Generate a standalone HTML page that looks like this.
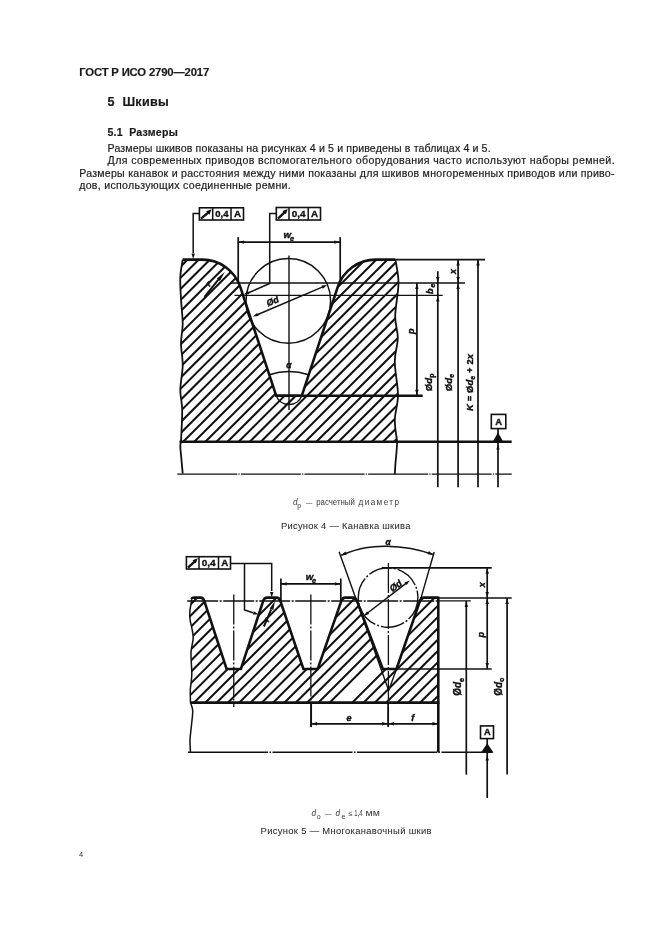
<!DOCTYPE html>
<html><head><meta charset="utf-8"><style>
html,body{margin:0;padding:0;background:#fff;}
body{width:661px;height:936px;position:relative;overflow:hidden;font-family:"Liberation Sans",sans-serif;}
svg{filter:grayscale(100%);}
</style></head><body>
<svg width="661" height="936" viewBox="0 0 661 936" style="position:absolute;left:0;top:0"><g font-family="Liberation Sans, sans-serif"><text x="79.2" y="75.9" font-size="11.3" font-weight="bold" fill="#1a1a1a" stroke="#1a1a1a" stroke-width="0.18" textLength="130" lengthAdjust="spacing" >ГОСТ Р ИСО 2790—2017</text><text x="107.5" y="106.2" font-size="12.6" font-weight="bold" fill="#1a1a1a" stroke="#1a1a1a" stroke-width="0.18" textLength="61.3" lengthAdjust="spacing" >5&#160;&#160;Шкивы</text><text x="107.5" y="135.9" font-size="10.6" font-weight="bold" fill="#1a1a1a" stroke="#1a1a1a" stroke-width="0.18" textLength="70.2" lengthAdjust="spacing" >5.1&#160;&#160;Размеры</text><text x="107.6" y="151.8" font-size="10.6" font-weight="normal" fill="#1a1a1a" stroke="#1a1a1a" stroke-width="0.18" textLength="383" lengthAdjust="spacing" >Размеры шкивов показаны на рисунках 4 и 5 и приведены в таблицах 4 и 5.</text><text x="107.6" y="164.3" font-size="10.6" font-weight="normal" fill="#1a1a1a" stroke="#1a1a1a" stroke-width="0.18" textLength="507" lengthAdjust="spacing" >Для современных приводов вспомогательного оборудования часто используют наборы ремней.</text><text x="79.2" y="176.7" font-size="10.6" font-weight="normal" fill="#1a1a1a" stroke="#1a1a1a" stroke-width="0.18" textLength="535.3" lengthAdjust="spacing" >Размеры канавок и расстояния между ними показаны для шкивов многоременных приводов или приво-</text><text x="79.2" y="189.1" font-size="10.6" font-weight="normal" fill="#1a1a1a" stroke="#1a1a1a" stroke-width="0.18" textLength="211.5" lengthAdjust="spacing" >дов, использующих соединенные ремни.</text><text x="280.9" y="529.2" font-size="9.4" font-weight="normal" fill="#2a2a2a" stroke="#2a2a2a" stroke-width="0.05" textLength="129.5" lengthAdjust="spacing" >Рисунок 4 — Канавка шкива</text><text x="260.6" y="833.9" font-size="9.4" font-weight="normal" fill="#2a2a2a" stroke="#2a2a2a" stroke-width="0.05" textLength="170.9" lengthAdjust="spacing" >Рисунок 5 — Многоканавочный шкив</text><text x="78.9" y="857.2" font-size="7.5" font-weight="normal" fill="#333" stroke="#333" stroke-width="0" >4</text><text x="293.0" y="505.4" font-size="8.2" fill="#3a3a3a" font-style="italic">d</text><text x="297.2" y="508.4" font-size="7.0" fill="#3a3a3a">p</text><text x="305.9" y="505.4" font-size="8" fill="#3a3a3a" textLength="6.3" lengthAdjust="spacingAndGlyphs">—</text><text x="316.2" y="505.4" font-size="8.2" fill="#3a3a3a" textLength="38.7" lengthAdjust="spacingAndGlyphs">расчетный</text><text x="358.5" y="505.4" font-size="8.2" fill="#3a3a3a" textLength="40.5" lengthAdjust="spacing">диаметр</text><text x="311.6" y="815.9" font-size="8.2" fill="#3a3a3a" font-style="italic">d</text><text x="316.8" y="818.6999999999999" font-size="7.0" fill="#3a3a3a">o</text><text x="324.7" y="815.9" font-size="8" fill="#3a3a3a" textLength="6.9" lengthAdjust="spacingAndGlyphs">—</text><text x="335.4" y="815.9" font-size="8.2" fill="#3a3a3a" font-style="italic">d</text><text x="341.6" y="818.6999999999999" font-size="7.0" fill="#3a3a3a">e</text><text x="348.2" y="815.9" font-size="7.5" fill="#3a3a3a" textLength="3.2" lengthAdjust="spacing">≤</text><text x="354.3" y="815.9" font-size="8.2" fill="#3a3a3a" textLength="8.3" lengthAdjust="spacingAndGlyphs">1,4</text><text x="365.6" y="815.9" font-size="8.2" fill="#3a3a3a" textLength="14.3" lengthAdjust="spacingAndGlyphs">мм</text></g><g stroke="#111" fill="none" font-family="Liberation Sans, sans-serif"><clipPath id="c4"><path d="M182.7,259.6 L202.36,259.6 A40.0,40.0 0 0 1 240.34,287.06 L276.22,395.8 L301.78,395.8 L337.66,287.06 A40.0,40.0 0 0 1 375.64,259.6 L395.4,259.6 C395.92,263.50 398.53,273.60 398.50,283.00 C398.47,292.40 395.32,306.83 395.20,316.00 C395.08,325.17 397.87,330.33 397.80,338.00 C397.73,345.67 394.77,352.50 394.80,362.00 C394.83,371.50 398.00,385.33 398.00,395.00 C398.00,404.67 394.93,412.22 394.80,420.00 C394.67,427.78 396.80,438.08 397.20,441.70 L181,441.7 C181.20,436.38 182.32,418.42 182.20,409.80 C182.08,401.18 180.22,397.38 180.30,390.00 C180.38,382.62 182.58,373.27 182.70,365.50 C182.82,357.73 181.00,350.35 181.00,343.40 C181.00,336.45 182.70,331.20 182.70,323.80 C182.70,316.40 181.40,306.80 181.00,299.00 C180.60,291.20 180.02,283.57 180.30,277.00 C180.58,270.43 182.30,262.50 182.70,259.60 Z"/></clipPath><g clip-path="url(#c4)" stroke-width="2.05"><path d="M-58.0,250 L-308.0,500 M-46.89999999999998,250 L-296.9,500 M-35.80000000000001,250 L-285.8,500 M-24.69999999999999,250 L-274.7,500 M-13.599999999999966,250 L-263.59999999999997,500 M-2.5,250 L-252.5,500 M8.600000000000023,250 L-241.39999999999998,500 M19.69999999999999,250 L-230.3,500 M30.80000000000001,250 L-219.2,500 M41.900000000000034,250 L-208.09999999999997,500 M53.0,250 L-197.0,500 M64.10000000000002,250 L-185.89999999999998,500 M75.19999999999999,250 L-174.8,500 M86.30000000000001,250 L-163.7,500 M97.40000000000003,250 L-152.59999999999997,500 M108.5,250 L-141.5,500 M119.60000000000002,250 L-130.39999999999998,500 M130.70000000000005,250 L-119.29999999999995,500 M141.8,250 L-108.19999999999999,500 M152.89999999999998,250 L-97.10000000000002,500 M164.0,250 L-86.0,500 M175.10000000000002,250 L-74.89999999999998,500 M186.20000000000005,250 L-63.799999999999955,500 M197.3,250 L-52.69999999999999,500 M208.39999999999998,250 L-41.60000000000002,500 M219.5,250 L-30.5,500 M230.60000000000002,250 L-19.399999999999977,500 M241.70000000000005,250 L-8.299999999999955,500 M252.8,250 L2.8000000000000114,500 M263.9,250 L13.899999999999977,500 M275.0,250 L25.0,500 M286.1,250 L36.10000000000002,500 M297.20000000000005,250 L47.200000000000045,500 M308.29999999999995,250 L58.299999999999955,500 M319.4,250 L69.39999999999998,500 M330.5,250 L80.5,500 M341.6,250 L91.60000000000002,500 M352.70000000000005,250 L102.70000000000005,500 M363.79999999999995,250 L113.79999999999995,500 M374.9,250 L124.89999999999998,500 M386.0,250 L136.0,500 M397.1,250 L147.10000000000002,500 M408.20000000000005,250 L158.20000000000005,500 M419.29999999999995,250 L169.29999999999995,500 M430.4,250 L180.39999999999998,500 M441.5,250 L191.5,500 M452.6,250 L202.60000000000002,500 M463.70000000000005,250 L213.70000000000005,500 M474.79999999999995,250 L224.79999999999995,500 M485.9,250 L235.89999999999998,500 M497.0,250 L247.0,500 M508.1,250 L258.1,500 M519.2,250 L269.20000000000005,500 M530.3,250 L280.29999999999995,500 M541.4,250 L291.4,500 M552.5,250 L302.5,500 M563.6,250 L313.6,500 M574.7,250 L324.70000000000005,500 M585.8,250 L335.79999999999995,500 M596.9,250 L346.9,500 M608.0,250 L358.0,500 M619.1,250 L369.1,500 M630.2,250 L380.20000000000005,500 M641.3,250 L391.29999999999995,500 M652.4,250 L402.4,500 M663.5,250 L413.5,500 M674.5999999999999,250 L424.5999999999999,500 M685.7,250 L435.70000000000005,500 M696.8,250 L446.79999999999995,500 M707.9,250 L457.9,500 M719.0,250 L469.0,500 M730.0999999999999,250 L480.0999999999999,500 M741.2,250 L491.20000000000005,500 M752.3,250 L502.29999999999995,500 M763.4,250 L513.4,500 M774.5,250 L524.5,500 M785.5999999999999,250 L535.5999999999999,500 M796.7,250 L546.7,500 M807.8,250 L557.8,500 M818.9000000000001,250 L568.9000000000001,500"/></g><path d="M182.7,259.6 L202.36,259.6 A40.0,40.0 0 0 1 240.34,287.06 L276.22,395.8 L301.78,395.8 L337.66,287.06 A40.0,40.0 0 0 1 375.64,259.6 L395.4,259.6" fill="none" stroke-width="2.6"/><path d="M182.7,259.6 C182.30,262.50 180.58,270.43 180.30,277.00 C180.02,283.57 180.60,291.20 181.00,299.00 C181.40,306.80 182.70,316.40 182.70,323.80 C182.70,331.20 181.00,336.45 181.00,343.40 C181.00,350.35 182.82,357.73 182.70,365.50 C182.58,373.27 180.38,382.62 180.30,390.00 C180.22,397.38 182.08,401.18 182.20,409.80 C182.32,418.42 181.20,436.38 181.00,441.70 C180.88,442.50 180.22,443.45 180.30,446.50 C180.38,449.55 181.10,455.48 181.50,460.00 C181.90,464.52 182.50,471.33 182.70,473.60" fill="none" stroke-width="1.8"/><path d="M395.4,259.6 C395.92,263.50 398.53,273.60 398.50,283.00 C398.47,292.40 395.32,306.83 395.20,316.00 C395.08,325.17 397.87,330.33 397.80,338.00 C397.73,345.67 394.77,352.50 394.80,362.00 C394.83,371.50 398.00,385.33 398.00,395.00 C398.00,404.67 394.93,412.22 394.80,420.00 C394.67,427.78 396.80,438.08 397.20,441.70 C397.08,443.42 396.78,448.45 396.50,452.00 C396.22,455.55 395.78,459.33 395.50,463.00 C395.22,466.67 394.92,472.17 394.80,474.00" fill="none" stroke-width="1.8"/><line x1="179.50" y1="441.70" x2="511.70" y2="441.70" stroke-width="2.6" /><line x1="177.30" y1="474.10" x2="511.70" y2="474.10" stroke-width="1.3" stroke-dasharray="60,1.2,1.2,1.2"/><circle cx="288.3" cy="300.9" r="42.3" fill="none" stroke-width="1.5"/><line x1="289.00" y1="255.40" x2="289.00" y2="409.90" stroke-width="1.4" /><line x1="230.00" y1="283.00" x2="465.00" y2="283.00" stroke-width="1.7" /><line x1="234.50" y1="295.40" x2="442.70" y2="295.40" stroke-width="1.1" /><line x1="276.22" y1="395.80" x2="422.70" y2="395.80" stroke-width="2.4" /><path d="M276.22,395.8 A13.7,13.7 0 0 0 301.78,395.8" fill="none" stroke-width="1.4"/><line x1="395.40" y1="259.60" x2="485.00" y2="259.60" stroke-width="1.7" /><line x1="238.20" y1="237.20" x2="238.20" y2="281.70" stroke-width="1.7" /><line x1="340.20" y1="237.20" x2="340.20" y2="281.70" stroke-width="1.7" /><line x1="238.20" y1="242.10" x2="340.20" y2="242.10" stroke-width="1.7" /><polygon points="238.60,242.10 244.10,240.40 244.10,243.80" fill="#111" stroke="none"/><polygon points="339.80,242.10 334.30,243.80 334.30,240.40" fill="#111" stroke="none"/><rect x="199.4" y="207.8" width="44.099999999999994" height="12.199999999999989" fill="#fff" stroke-width="1.6"/><line x1="212.70" y1="207.80" x2="212.70" y2="220.00" stroke-width="1.5" /><line x1="231.00" y1="207.80" x2="231.00" y2="220.00" stroke-width="1.5" /><line x1="201.00" y1="218.60" x2="209.10" y2="212.00" stroke-width="2.3" /><polygon points="211.50,209.30 209.52,214.67 206.13,211.28" fill="#111" stroke="none"/><text fill="#111" x="215.262" y="216.9" font-size="9.8" text-anchor="start" font-weight="bold" stroke="#111" stroke-width="0.35" textLength="13.2" lengthAdjust="spacingAndGlyphs">0,4</text><text fill="#111" x="237.45" y="216.9" font-size="9.8" text-anchor="middle" font-weight="bold" stroke="#111" stroke-width="0.35">A</text><rect x="276.3" y="207.5" width="44.19999999999999" height="12.5" fill="#fff" stroke-width="1.6"/><line x1="289.00" y1="207.50" x2="289.00" y2="220.00" stroke-width="1.5" /><line x1="308.20" y1="207.50" x2="308.20" y2="220.00" stroke-width="1.5" /><line x1="277.90" y1="218.60" x2="285.40" y2="211.70" stroke-width="2.3" /><polygon points="287.80,209.00 285.82,214.37 282.43,210.98" fill="#111" stroke="none"/><text fill="#111" x="291.68800000000005" y="216.9" font-size="9.8" text-anchor="start" font-weight="bold" stroke="#111" stroke-width="0.35" textLength="13.8" lengthAdjust="spacingAndGlyphs">0,4</text><text fill="#111" x="314.55" y="216.9" font-size="9.8" text-anchor="middle" font-weight="bold" stroke="#111" stroke-width="0.35">A</text><polyline points="199.4,213.6 193.2,213.6 193.2,253" fill="none" stroke-width="1.5"/><polygon points="193.20,259.00 191.50,253.50 194.90,253.50" fill="#111" stroke="none"/><polyline points="276.3,213.6 269.7,213.6 269.7,283.5 248,293" fill="none" stroke-width="1.5"/><polygon points="243.60,294.60 248.02,290.92 249.33,294.05" fill="#111" stroke="none"/><text fill="#111" x="283.6" y="237.7" font-size="9.6" text-anchor="start" font-style="italic" font-weight="bold" stroke="#111" stroke-width="0.4">w</text><text fill="#111" x="290.0" y="240.8" font-size="7.4" text-anchor="start" font-style="italic" font-weight="bold" stroke="#111" stroke-width="0.4">e</text><line x1="204.50" y1="296.80" x2="220.00" y2="277.60" stroke-width="2.0" /><polygon points="224.80,272.00 219.93,280.96 216.86,278.40" fill="#111" stroke="none"/><text fill="#111" x="209.5" y="287" font-size="8.5" text-anchor="start" transform="rotate(-50 209.5 287)" font-style="italic" font-weight="bold" stroke="#111" stroke-width="0.4">r</text><line x1="256.00" y1="315.20" x2="324.00" y2="286.40" stroke-width="1.5" /><polygon points="252.80,316.60 257.20,312.89 258.53,316.02" fill="#111" stroke="none"/><polygon points="327.20,285.00 322.80,288.71 321.47,285.58" fill="#111" stroke="none"/><text fill="#111" x="268" y="306.5" font-size="9" text-anchor="start" transform="rotate(-23 268 306.5)" font-style="italic" font-weight="bold" stroke="#111" stroke-width="0.4">Ød</text><path d="M269.3,374.7 A63,63 0 0 1 308.7,374.7" fill="none" stroke-width="1.6"/><text fill="#111" x="289" y="368" font-size="8.5" text-anchor="middle" font-style="italic" font-weight="bold" stroke="#111" stroke-width="0.4">α</text><line x1="416.90" y1="283.00" x2="416.90" y2="395.80" stroke-width="1.7" /><polygon points="416.90,283.50 418.60,289.00 415.20,289.00" fill="#111" stroke="none"/><polygon points="416.90,395.30 415.20,389.80 418.60,389.80" fill="#111" stroke="none"/><line x1="437.80" y1="271.20" x2="437.80" y2="487.20" stroke-width="1.7" /><polygon points="437.80,282.50 436.10,277.00 439.50,277.00" fill="#111" stroke="none"/><polygon points="437.80,295.90 439.50,301.40 436.10,301.40" fill="#111" stroke="none"/><line x1="458.10" y1="259.60" x2="458.10" y2="487.20" stroke-width="1.7" /><polygon points="458.10,260.10 459.80,265.60 456.40,265.60" fill="#111" stroke="none"/><polygon points="458.10,282.50 456.40,277.00 459.80,277.00" fill="#111" stroke="none"/><polygon points="458.10,283.50 459.80,289.00 456.40,289.00" fill="#111" stroke="none"/><line x1="478.00" y1="259.60" x2="478.00" y2="487.20" stroke-width="1.7" /><polygon points="478.00,260.10 479.70,265.60 476.30,265.60" fill="#111" stroke="none"/><text fill="#111" x="455.8" y="274" font-size="9" text-anchor="start" transform="rotate(-90 455.8 274)" font-style="italic" font-weight="bold" stroke="#111" stroke-width="0.4">x</text><text fill="#111" x="433.2" y="294" font-size="9" text-anchor="start" transform="rotate(-90 433.2 294)" font-style="italic" font-weight="bold" stroke="#111" stroke-width="0.4">b</text><text fill="#111" x="434.9" y="287.6" font-size="6.8" text-anchor="start" transform="rotate(-90 434.9 287.6)" font-style="italic" font-weight="bold" stroke="#111" stroke-width="0.4">e</text><text fill="#111" x="414" y="334" font-size="9" text-anchor="start" transform="rotate(-90 414 334)" font-style="italic" font-weight="bold" stroke="#111" stroke-width="0.4">p</text><text fill="#111" x="431.6" y="391.2" font-size="9.6" text-anchor="start" transform="rotate(-90 431.6 391.2)" font-weight="bold" stroke="#111" stroke-width="0.4">Ø<tspan font-style="italic">d</tspan><tspan font-size="7" dy="2.1">p</tspan></text><text fill="#111" x="452.2" y="391.2" font-size="9.6" text-anchor="start" transform="rotate(-90 452.2 391.2)" font-weight="bold" stroke="#111" stroke-width="0.4">Ø<tspan font-style="italic">d</tspan><tspan font-size="7" dy="2.1">e</tspan></text><text fill="#111" x="473.2" y="411" font-size="9.4" text-anchor="start" transform="rotate(-90 473.2 411)" font-weight="bold" stroke="#111" stroke-width="0.4" textLength="57" lengthAdjust="spacing"><tspan font-style="italic">K</tspan> = Ø<tspan font-style="italic">d</tspan><tspan font-size="6.8" dy="2">e</tspan><tspan dy="-2"> + 2</tspan><tspan font-style="italic">x</tspan></text><rect x="491.3" y="414.4" width="14.5" height="14.2" fill="#fff" stroke-width="1.6"/><text fill="#111" x="498.6" y="425.0" font-size="9.2" text-anchor="middle" font-weight="bold" stroke="#111" stroke-width="0.35">A</text><line x1="498.00" y1="428.60" x2="498.00" y2="487.20" stroke-width="1.7" /><polygon points="498,432.4 493.2,441 502.8,441" fill="#111" stroke="none"/><polygon points="498.00,444.50 499.70,449.50 496.30,449.50" fill="#111" stroke="none"/><clipPath id="c5"><path d="M191.8,599.1 Q191.8,597.6 194.60000000000002,597.6 L200.40,597.6 Q203.20,597.6 204.18,600.6 L226.60,669.0 L240.90,669.0 L263.32,600.6 Q264.30,597.6 267.10,597.6 L276.40,597.6 Q279.20,597.6 280.22,600.6 L303.40,669.0 L317.70,669.0 L341.46,600.6 Q342.50,597.6 345.30,597.6 L352.90,597.6 Q355.70,597.6 356.84,600.6 L382.80,669.0 L396.50,669.0 L420.07,600.6 Q421.10,597.6 423.90,597.6 L438.3,597.6 L438.3,702.6 L190.5,702.6 C190.47,700.50 190.08,694.68 190.30,690.00 C190.52,685.32 191.68,680.72 191.80,674.50 C191.92,668.28 190.77,658.72 191.00,652.70 C191.23,646.68 193.02,642.30 193.20,638.40 C193.38,634.50 192.60,632.32 192.10,629.30 C191.60,626.28 190.58,623.18 190.20,620.30 C189.82,617.42 189.53,615.53 189.80,612.00 C190.07,608.47 191.47,601.25 191.80,599.10 Z"/></clipPath><g clip-path="url(#c5)" stroke-width="2.05"><path d="M-361.29999999999995,580 L-501.29999999999995,720 M-350.0,580 L-490.0,720 M-338.70000000000005,580 L-478.70000000000005,720 M-327.4,580 L-467.4,720 M-316.1,580 L-456.1,720 M-304.79999999999995,580 L-444.79999999999995,720 M-293.5,580 L-433.5,720 M-282.20000000000005,580 L-422.20000000000005,720 M-270.9,580 L-410.9,720 M-259.6,580 L-399.6,720 M-248.29999999999995,580 L-388.29999999999995,720 M-237.0,580 L-377.0,720 M-225.70000000000005,580 L-365.70000000000005,720 M-214.39999999999998,580 L-354.4,720 M-203.10000000000002,580 L-343.1,720 M-191.8,580 L-331.8,720 M-180.5,580 L-320.5,720 M-169.2,580 L-309.2,720 M-157.89999999999998,580 L-297.9,720 M-146.59999999999997,580 L-286.59999999999997,720 M-135.29999999999995,580 L-275.29999999999995,720 M-124.0,580 L-264.0,720 M-112.69999999999999,580 L-252.7,720 M-101.39999999999998,580 L-241.39999999999998,720 M-90.09999999999997,580 L-230.09999999999997,720 M-78.79999999999995,580 L-218.79999999999995,720 M-67.5,580 L-207.5,720 M-56.200000000000045,580 L-196.20000000000005,720 M-44.89999999999998,580 L-184.89999999999998,720 M-33.59999999999991,580 L-173.5999999999999,720 M-22.299999999999955,580 L-162.29999999999995,720 M-11.0,580 L-151.0,720 M0.2999999999999545,580 L-139.70000000000005,720 M11.600000000000023,580 L-128.39999999999998,720 M22.90000000000009,580 L-117.09999999999991,720 M34.200000000000045,580 L-105.79999999999995,720 M45.5,580 L-94.5,720 M56.799999999999955,580 L-83.20000000000005,720 M68.10000000000002,580 L-71.89999999999998,720 M79.40000000000009,580 L-60.59999999999991,720 M90.70000000000005,580 L-49.299999999999955,720 M102.0,580 L-38.0,720 M113.30000000000007,580 L-26.699999999999932,720 M124.60000000000002,580 L-15.399999999999977,720 M135.9000000000001,580 L-4.099999999999909,720 M147.20000000000005,580 L7.2000000000000455,720 M158.5,580 L18.5,720 M169.80000000000007,580 L29.800000000000068,720 M181.10000000000002,580 L41.10000000000002,720 M192.4000000000001,580 L52.40000000000009,720 M203.70000000000005,580 L63.700000000000045,720 M215.0,580 L75.0,720 M226.30000000000007,580 L86.30000000000007,720 M237.60000000000002,580 L97.60000000000002,720 M248.9000000000001,580 L108.90000000000009,720 M260.20000000000005,580 L120.20000000000005,720 M271.5,580 L131.5,720 M282.80000000000007,580 L142.80000000000007,720 M294.1,580 L154.10000000000002,720 M305.4000000000001,580 L165.4000000000001,720 M316.70000000000005,580 L176.70000000000005,720 M328.0,580 L188.0,720 M339.30000000000007,580 L199.30000000000007,720 M350.6,580 L210.60000000000002,720 M361.9000000000001,580 L221.9000000000001,720 M373.20000000000005,580 L233.20000000000005,720 M384.5,580 L244.5,720 M395.80000000000007,580 L255.80000000000007,720 M407.1,580 L267.1,720 M418.4000000000001,580 L278.4000000000001,720 M429.70000000000005,580 L289.70000000000005,720 M441.0,580 L301.0,720 M452.3000000000002,580 L312.3000000000002,720 M463.60000000000014,580 L390,653.6000000000001 M474.9000000000001,580 L334.9000000000001,720 M486.20000000000005,580 L346.20000000000005,720 M497.5,580 L357.5,720 M508.8000000000002,580 L368.8000000000002,720 M520.1000000000001,580 L380.10000000000014,720 M531.4000000000001,580 L391.4000000000001,720 M542.7,580 L402.70000000000005,720 M554.0,580 L414.0,720 M565.3000000000002,580 L425.3000000000002,720 M576.6000000000001,580 L436.60000000000014,720 M587.9000000000001,580 L447.9000000000001,720 M599.2,580 L459.20000000000005,720 M610.5,580 L470.5,720 M621.8000000000002,580 L481.8000000000002,720 M633.1000000000001,580 L493.10000000000014,720 M644.4000000000001,580 L504.4000000000001,720 M655.7,580 L515.7,720 M667.0,580 L527.0,720 M678.3000000000002,580 L538.3000000000002,720 M689.6000000000001,580 L549.6000000000001,720 M700.9000000000001,580 L560.9000000000001,720 M712.2,580 L572.2,720 M723.5,580 L583.5,720 M734.8000000000002,580 L594.8000000000002,720 M746.1000000000001,580 L606.1000000000001,720 M757.4000000000001,580 L617.4000000000001,720 M768.7,580 L628.7,720 M780.0,580 L640.0,720 M791.3000000000002,580 L651.3000000000002,720 M802.6000000000001,580 L662.6000000000001,720 M813.9000000000001,580 L673.9000000000001,720 M825.2,580 L685.2,720 M836.5,580 L696.5,720 M847.8000000000002,580 L707.8000000000002,720 M859.1000000000001,580 L719.1000000000001,720 M870.4000000000001,580 L730.4000000000001,720 M881.7,580 L741.7,720 M893.0,580 L753.0,720 M904.3000000000002,580 L764.3000000000002,720 M915.6000000000001,580 L775.6000000000001,720 M926.9000000000001,580 L786.9000000000001,720 M938.2,580 L798.2,720 M949.5,580 L809.5,720 M960.8000000000002,580 L820.8000000000002,720 M972.1000000000001,580 L832.1000000000001,720 M983.4000000000001,580 L843.4000000000001,720"/></g><path d="M191.8,599.1 Q191.8,597.6 194.60000000000002,597.6 L200.40,597.6 Q203.20,597.6 204.18,600.6 L226.60,669.0 L240.90,669.0 L263.32,600.6 Q264.30,597.6 267.10,597.6 L276.40,597.6 Q279.20,597.6 280.22,600.6 L303.40,669.0 L317.70,669.0 L341.46,600.6 Q342.50,597.6 345.30,597.6 L352.90,597.6 Q355.70,597.6 356.84,600.6 L382.80,669.0 L396.50,669.0 L420.07,600.6 Q421.10,597.6 423.90,597.6 L438.3,597.6" fill="none" stroke-width="2.6"/><path d="M191.8,599.1 C191.47,601.25 190.07,608.47 189.80,612.00 C189.53,615.53 189.82,617.42 190.20,620.30 C190.58,623.18 191.60,626.28 192.10,629.30 C192.60,632.32 193.38,634.50 193.20,638.40 C193.02,642.30 191.23,646.68 191.00,652.70 C190.77,658.72 191.92,668.28 191.80,674.50 C191.68,680.72 190.52,685.32 190.30,690.00 C190.08,694.68 190.47,700.50 190.50,702.60 C190.87,703.97 192.53,707.07 192.70,710.80 C192.87,714.53 191.95,720.13 191.50,725.00 C191.05,729.87 190.17,735.47 190.00,740.00 C189.83,744.53 190.42,750.17 190.50,752.20" fill="none" stroke-width="1.5"/><line x1="190.50" y1="702.60" x2="439.40" y2="702.60" stroke-width="2.6" /><line x1="438.30" y1="596.60" x2="438.30" y2="752.40" stroke-width="2.6" /><line x1="188.00" y1="752.20" x2="492.60" y2="752.20" stroke-width="1.4" stroke-dasharray="80,1.5,1.5,1.5"/><line x1="187.20" y1="601.00" x2="438.00" y2="601.00" stroke-width="1.4" stroke-dasharray="31,1.5,2,1.5"/><line x1="420.00" y1="598.10" x2="511.70" y2="598.10" stroke-width="1.5" /><line x1="438.00" y1="600.90" x2="470.80" y2="600.90" stroke-width="1.4" /><line x1="381.80" y1="567.80" x2="491.70" y2="567.80" stroke-width="1.7" /><line x1="395.00" y1="669.00" x2="491.70" y2="669.00" stroke-width="1.6" /><line x1="233.75" y1="594.50" x2="233.75" y2="707.00" stroke-width="1.3" stroke-dasharray="30,2,2,2"/><line x1="310.85" y1="594.50" x2="310.85" y2="727.00" stroke-width="1.3" stroke-dasharray="30,2,2,2"/><line x1="388.40" y1="563.00" x2="388.40" y2="727.00" stroke-width="1.3" stroke-dasharray="30,2,2,2"/><circle cx="388.1" cy="597.5" r="29.8" fill="none" stroke-width="1.4" stroke-dasharray="24,2,2,2"/><line x1="339.10" y1="551.80" x2="388.70" y2="690.50" stroke-width="1.4" /><polyline points="434.2,552.0 421.1,597.6 396.5,669.0 388.7,690.5" fill="none" stroke-width="1.4"/><path d="M341.3,555.2 C360,547.5 372,546.0 386.5,546.2 C401,546.4 417,548.5 433.0,554.6" fill="none" stroke-width="1.6"/><polygon points="341.00,555.30 345.41,551.60 346.73,554.74" fill="#111" stroke="none"/><polygon points="433.30,554.70 427.56,554.24 428.82,551.08" fill="#111" stroke="none"/><text fill="#111" x="388.1" y="544.5" font-size="8.5" text-anchor="middle" font-style="italic" font-weight="bold" stroke="#111" stroke-width="0.4">α</text><line x1="280.90" y1="578.50" x2="280.90" y2="600.00" stroke-width="1.7" /><line x1="340.80" y1="578.50" x2="340.80" y2="600.00" stroke-width="1.7" /><line x1="280.90" y1="583.90" x2="340.80" y2="583.90" stroke-width="1.7" /><polygon points="281.30,583.90 286.80,582.20 286.80,585.60" fill="#111" stroke="none"/><polygon points="340.40,583.90 334.90,585.60 334.90,582.20" fill="#111" stroke="none"/><text fill="#111" x="305.7" y="579.7" font-size="9.6" text-anchor="start" font-style="italic" font-weight="bold" stroke="#111" stroke-width="0.4">w</text><text fill="#111" x="312.0" y="582.6" font-size="7.4" text-anchor="start" font-style="italic" font-weight="bold" stroke="#111" stroke-width="0.4">e</text><rect x="186.4" y="556.7" width="44.099999999999994" height="12.299999999999955" fill="#fff" stroke-width="1.6"/><line x1="199.00" y1="556.70" x2="199.00" y2="569.00" stroke-width="1.5" /><line x1="218.50" y1="556.70" x2="218.50" y2="569.00" stroke-width="1.5" /><line x1="188.00" y1="567.60" x2="195.40" y2="560.90" stroke-width="2.3" /><polygon points="197.80,558.20 195.82,563.57 192.43,560.18" fill="#111" stroke="none"/><text fill="#111" x="201.73" y="565.9" font-size="9.8" text-anchor="start" font-weight="bold" stroke="#111" stroke-width="0.35" textLength="14.0" lengthAdjust="spacingAndGlyphs">0,4</text><text fill="#111" x="224.7" y="565.9" font-size="9.8" text-anchor="middle" font-weight="bold" stroke="#111" stroke-width="0.35">A</text><polyline points="230.5,563.6 271.7,563.6 271.7,591" fill="none" stroke-width="1.5"/><polygon points="271.70,597.40 270.00,591.90 273.40,591.90" fill="#111" stroke="none"/><polyline points="244.5,563.6 244.5,609.9 253,612.8" fill="none" stroke-width="1.5"/><polygon points="258.50,614.60 252.75,614.41 253.85,611.20" fill="#111" stroke="none"/><line x1="263.90" y1="626.50" x2="271.20" y2="609.40" stroke-width="2.0" /><polygon points="275.00,601.00 273.30,610.06 269.62,608.49" fill="#111" stroke="none"/><text fill="#111" x="268.5" y="622.5" font-size="8.5" text-anchor="start" transform="rotate(-63 268.5 622.5)" font-style="italic" font-weight="bold" stroke="#111" stroke-width="0.4">r</text><line x1="366.30" y1="614.00" x2="407.30" y2="582.40" stroke-width="1.5" /><polygon points="363.70,616.00 367.02,611.30 369.10,613.99" fill="#111" stroke="none"/><polygon points="409.90,580.40 406.58,585.10 404.50,582.41" fill="#111" stroke="none"/><text fill="#111" x="392.5" y="592.3" font-size="9.4" text-anchor="start" transform="rotate(-37 392.5 592.3)" font-style="italic" font-weight="bold" stroke="#111" stroke-width="0.4">Ød</text><line x1="487.20" y1="567.80" x2="487.20" y2="669.00" stroke-width="1.7" /><polygon points="487.20,568.30 488.90,573.80 485.50,573.80" fill="#111" stroke="none"/><polygon points="487.20,597.60 485.50,592.10 488.90,592.10" fill="#111" stroke="none"/><polygon points="487.20,598.60 488.90,604.10 485.50,604.10" fill="#111" stroke="none"/><polygon points="487.20,668.50 485.50,663.00 488.90,663.00" fill="#111" stroke="none"/><line x1="466.30" y1="600.90" x2="466.30" y2="774.60" stroke-width="1.7" /><polygon points="466.30,601.40 468.00,606.90 464.60,606.90" fill="#111" stroke="none"/><line x1="507.10" y1="598.10" x2="507.10" y2="774.60" stroke-width="1.7" /><polygon points="507.10,598.60 508.80,604.10 505.40,604.10" fill="#111" stroke="none"/><text fill="#111" x="484.8" y="587.2" font-size="9" text-anchor="start" transform="rotate(-90 484.8 587.2)" font-style="italic" font-weight="bold" stroke="#111" stroke-width="0.4">x</text><text fill="#111" x="484.2" y="637.5" font-size="9" text-anchor="start" transform="rotate(-90 484.2 637.5)" font-style="italic" font-weight="bold" stroke="#111" stroke-width="0.4">p</text><text fill="#111" x="461.3" y="695.8" font-size="10" text-anchor="start" transform="rotate(-90 461.3 695.8)" font-weight="bold" stroke="#111" stroke-width="0.4">Ø<tspan font-style="italic">d</tspan><tspan font-size="7.2" dy="2.2">e</tspan></text><text fill="#111" x="502.1" y="695.8" font-size="10" text-anchor="start" transform="rotate(-90 502.1 695.8)" font-weight="bold" stroke="#111" stroke-width="0.4">Ø<tspan font-style="italic">d</tspan><tspan font-size="7.2" dy="2.2">o</tspan></text><line x1="311.20" y1="702.60" x2="311.20" y2="727.10" stroke-width="1.7" /><line x1="388.10" y1="702.60" x2="388.10" y2="727.10" stroke-width="1.7" /><line x1="311.20" y1="723.80" x2="438.30" y2="723.80" stroke-width="1.7" /><polygon points="311.60,723.80 317.10,722.10 317.10,725.50" fill="#111" stroke="none"/><polygon points="387.70,723.80 382.20,725.50 382.20,722.10" fill="#111" stroke="none"/><polygon points="388.50,723.80 394.00,722.10 394.00,725.50" fill="#111" stroke="none"/><polygon points="437.90,723.80 432.40,725.50 432.40,722.10" fill="#111" stroke="none"/><text fill="#111" x="349" y="721.2" font-size="9" text-anchor="middle" font-style="italic" font-weight="bold" stroke="#111" stroke-width="0.4">e</text><text fill="#111" x="412.7" y="720.8" font-size="9" text-anchor="middle" font-style="italic" font-weight="bold" stroke="#111" stroke-width="0.4">f</text><rect x="480.5" y="725.9" width="13" height="12.7" fill="#fff" stroke-width="1.6"/><text fill="#111" x="487.2" y="735.3" font-size="9.2" text-anchor="middle" font-weight="bold" stroke="#111" stroke-width="0.35">A</text><line x1="487.20" y1="738.60" x2="487.20" y2="798.00" stroke-width="1.7" /><polygon points="487.2,743.3 481.0,752.6 493.4,752.6" fill="#111" stroke="none"/><polygon points="487.20,755.50 488.90,760.50 485.50,760.50" fill="#111" stroke="none"/></g></svg>
</body></html>
